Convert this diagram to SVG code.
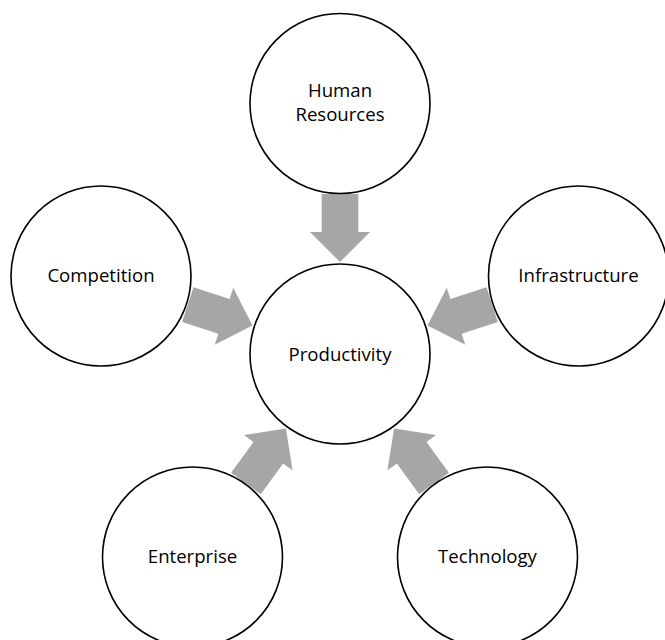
<svg xmlns="http://www.w3.org/2000/svg" width="665" height="640" viewBox="0 0 665 640">
<style>
.node circle{fill:#fff;stroke:#000;stroke-width:1.6}
.node text{font-family:"Open Sans","Liberation Sans",sans-serif;font-size:18.6px;fill:#000;text-anchor:middle}
.arrow{fill:#A6A6A6}
</style>
<defs>
<path id="arr" d="M0 -92 L30 -122 L18.3 -122 L18.3 -160 L-18.3 -160 L-18.3 -122 L-30 -122 Z"/>
</defs>
<rect width="665" height="640" fill="#fff"/>
<g id="connectors" class="arrow" transform="translate(340 354)">
<use href="#arr"/>
<use href="#arr" transform="rotate(-72)"/>
<use href="#arr" transform="rotate(72)"/>
<use href="#arr" transform="rotate(-144)"/>
<use href="#arr" transform="rotate(144)"/>
</g>
<g id="human-resources" class="node"><circle cx="340" cy="103.5" r="90"/><text x="340" y="97">Human</text><text x="340" y="121">Resources</text></g>
<g id="competition" class="node"><circle cx="101" cy="276" r="90"/><text x="101" y="282">Competition</text></g>
<g id="infrastructure" class="node"><circle cx="578.5" cy="276" r="90"/><text x="578.5" y="282">Infrastructure</text></g>
<g id="productivity" class="node"><circle cx="340" cy="354" r="90"/><text x="340" y="361">Productivity</text></g>
<g id="enterprise" class="node"><circle cx="192.5" cy="557" r="90"/><text x="192.5" y="563">Enterprise</text></g>
<g id="technology" class="node"><circle cx="487.5" cy="557" r="90"/><text x="487.5" y="563">Technology</text></g>
</svg>
